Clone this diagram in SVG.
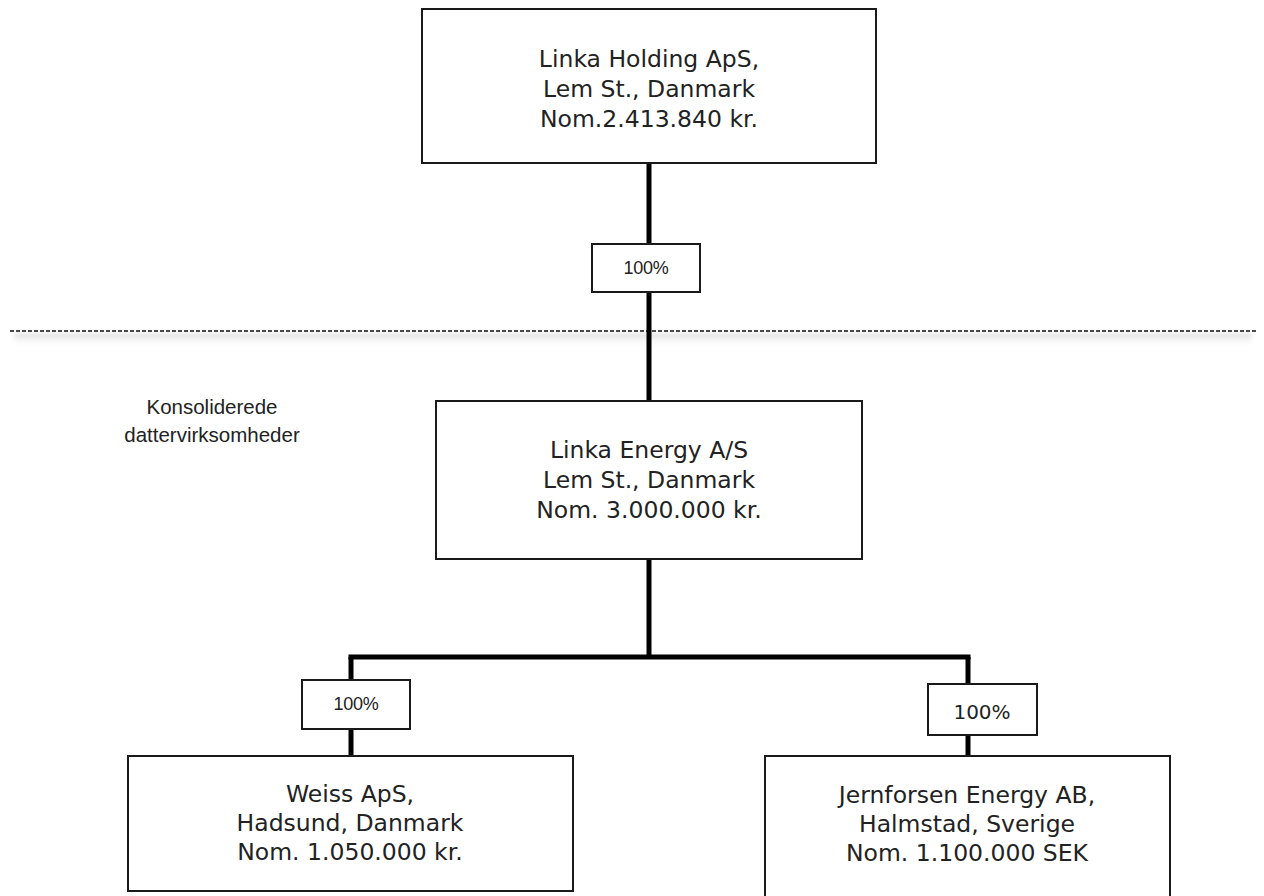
<svg xmlns="http://www.w3.org/2000/svg" width="1264" height="896" viewBox="0 0 1264 896">
<defs>
<linearGradient id="shadowG" x1="0" y1="0" x2="0" y2="1">
<stop offset="0" stop-color="#d8d8d8" stop-opacity="0.9"/>
<stop offset="1" stop-color="#ffffff" stop-opacity="0"/>
</linearGradient>
<filter id="blur" x="-5%" y="-100%" width="110%" height="300%"><feGaussianBlur stdDeviation="2"/></filter>
</defs>
<style>
.box{fill:#fff;stroke:#1a1a1a;stroke-width:2}
.lbl{fill:#fff;stroke:#1a1a1a;stroke-width:2}
.conn{stroke:#000;stroke-width:5;fill:none}
.t{font-family:"DejaVu Sans",Verdana,sans-serif;font-size:23.5px;fill:#222;text-anchor:middle}
.p{font-family:"Liberation Sans",Arial,sans-serif;font-size:18px;fill:#222;text-anchor:middle;letter-spacing:-0.2px}
.p2{font-family:"DejaVu Sans",Verdana,sans-serif;font-size:20px;fill:#222;text-anchor:middle}
.note{font-family:"Liberation Sans",Arial,sans-serif;font-size:20.5px;fill:#222;text-anchor:middle}
</style>
<rect width="1264" height="896" fill="#fff"/>
<g id="separator">
<rect x="14" y="333" width="1238" height="14" fill="url(#shadowG)" filter="url(#blur)"/>
<line x1="10" y1="331" x2="1256" y2="331" stroke="#111" stroke-width="1.6" stroke-dasharray="4 2"/>
</g>
<g id="connectors">
<line class="conn" x1="649" y1="163" x2="649" y2="401"/>
<line class="conn" x1="649" y1="559" x2="649" y2="657"/>
<line class="conn" x1="348.5" y1="657" x2="970.5" y2="657"/>
<line class="conn" x1="351" y1="657" x2="351" y2="756"/>
<line class="conn" x1="968" y1="657" x2="968" y2="756"/>
</g>
<g id="node-holding">
<rect class="box" x="422" y="9" width="454" height="154"/>
<text class="t" x="649" y="67">Linka Holding ApS,</text>
<text class="t" x="649" y="97">Lem St., Danmark</text>
<text class="t" x="649" y="127">Nom.2.413.840 kr.</text>
</g>
<g id="label-top">
<rect class="lbl" x="592" y="244" width="108" height="48"/>
<text class="p" x="646" y="274">100%</text>
</g>
<g id="note">
<text class="note" x="212" y="414">Konsoliderede</text>
<text class="note" x="212" y="442">dattervirksomheder</text>
</g>
<g id="node-energy">
<rect class="box" x="436" y="401" width="426" height="158"/>
<text class="t" x="649" y="458">Linka Energy A/S</text>
<text class="t" x="649" y="488">Lem St., Danmark</text>
<text class="t" x="649" y="518">Nom. 3.000.000 kr.</text>
</g>
<g id="label-left">
<rect class="lbl" x="302" y="680" width="108" height="49"/>
<text class="p" x="356" y="710">100%</text>
</g>
<g id="label-right">
<rect class="lbl" x="928" y="684" width="109" height="51"/>
<text class="p2" x="982" y="719">100%</text>
</g>
<g id="node-weiss">
<rect class="box" x="128" y="756" width="445" height="135"/>
<text class="t" x="350" y="802">Weiss ApS,</text>
<text class="t" x="350" y="831">Hadsund, Danmark</text>
<text class="t" x="350" y="860">Nom. 1.050.000 kr.</text>
</g>
<g id="node-jernforsen">
<rect class="box" x="765" y="756" width="405" height="150"/>
<text class="t" x="967" y="803">Jernforsen Energy AB,</text>
<text class="t" x="967" y="832">Halmstad, Sverige</text>
<text class="t" x="967" y="861">Nom. 1.100.000 SEK</text>
</g>
</svg>
